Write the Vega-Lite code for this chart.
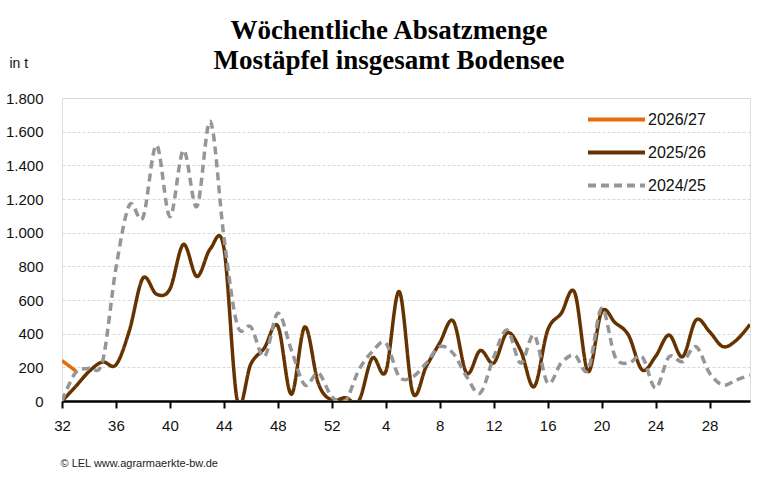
{
  "$schema": "https://vega.github.io/schema/vega-lite/v6.json",
  "width": 688,
  "height": 303,
  "autosize": {"type": "none"},
  "padding": {"left": 62, "top": 98, "right": 23, "bottom": 77},
  "background": "white",
  "title": {
    "text": ["Wöchentliche Absatzmenge", "Mostäpfel insgesamt Bodensee"],
    "font": "Liberation Serif",
    "fontSize": 27,
    "fontWeight": "bold",
    "color": "black",
    "anchor": "middle",
    "frame": "group",
    "dx": -17,
    "offset": -19,
    "lineHeight": 30
  },
  "data": {
    "values": [
      {"season": "2025/26", "week": 32, "t": 0},
      {"season": "2025/26", "week": 33, "t": 85},
      {"season": "2025/26", "week": 34, "t": 175},
      {"season": "2025/26", "week": 35, "t": 232},
      {"season": "2025/26", "week": 36, "t": 215},
      {"season": "2025/26", "week": 37, "t": 420},
      {"season": "2025/26", "week": 38, "t": 730},
      {"season": "2025/26", "week": 39, "t": 635},
      {"season": "2025/26", "week": 40, "t": 665},
      {"season": "2025/26", "week": 41, "t": 930},
      {"season": "2025/26", "week": 42, "t": 740},
      {"season": "2025/26", "week": 43, "t": 905},
      {"season": "2025/26", "week": 44, "t": 910},
      {"season": "2025/26", "week": 45, "t": 0},
      {"season": "2025/26", "week": 46, "t": 220},
      {"season": "2025/26", "week": 47, "t": 315},
      {"season": "2025/26", "week": 48, "t": 445},
      {"season": "2025/26", "week": 49, "t": 40},
      {"season": "2025/26", "week": 50, "t": 440},
      {"season": "2025/26", "week": 51, "t": 105},
      {"season": "2025/26", "week": 52, "t": 5},
      {"season": "2025/26", "week": 1, "t": 20},
      {"season": "2025/26", "week": 2, "t": 0},
      {"season": "2025/26", "week": 3, "t": 255},
      {"season": "2025/26", "week": 4, "t": 175},
      {"season": "2025/26", "week": 5, "t": 650},
      {"season": "2025/26", "week": 6, "t": 50},
      {"season": "2025/26", "week": 7, "t": 205},
      {"season": "2025/26", "week": 8, "t": 345},
      {"season": "2025/26", "week": 9, "t": 475},
      {"season": "2025/26", "week": 10, "t": 165},
      {"season": "2025/26", "week": 11, "t": 300},
      {"season": "2025/26", "week": 12, "t": 225},
      {"season": "2025/26", "week": 13, "t": 405},
      {"season": "2025/26", "week": 14, "t": 300},
      {"season": "2025/26", "week": 15, "t": 85},
      {"season": "2025/26", "week": 16, "t": 420},
      {"season": "2025/26", "week": 17, "t": 520},
      {"season": "2025/26", "week": 18, "t": 645},
      {"season": "2025/26", "week": 19, "t": 175},
      {"season": "2025/26", "week": 20, "t": 530},
      {"season": "2025/26", "week": 21, "t": 465},
      {"season": "2025/26", "week": 22, "t": 390},
      {"season": "2025/26", "week": 23, "t": 185},
      {"season": "2025/26", "week": 24, "t": 265},
      {"season": "2025/26", "week": 25, "t": 392},
      {"season": "2025/26", "week": 26, "t": 263},
      {"season": "2025/26", "week": 27, "t": 481},
      {"season": "2025/26", "week": 28, "t": 412},
      {"season": "2025/26", "week": 29, "t": 323},
      {"season": "2025/26", "week": 30, "t": 362},
      {"season": "2025/26", "week": 31, "t": 455},
      {"season": "2024/25", "week": 32, "t": 0},
      {"season": "2024/25", "week": 33, "t": 168},
      {"season": "2024/25", "week": 34, "t": 196},
      {"season": "2024/25", "week": 35, "t": 234},
      {"season": "2024/25", "week": 36, "t": 790},
      {"season": "2024/25", "week": 37, "t": 1165},
      {"season": "2024/25", "week": 38, "t": 1090},
      {"season": "2024/25", "week": 39, "t": 1520},
      {"season": "2024/25", "week": 40, "t": 1095},
      {"season": "2024/25", "week": 41, "t": 1490},
      {"season": "2024/25", "week": 42, "t": 1155},
      {"season": "2024/25", "week": 43, "t": 1660},
      {"season": "2024/25", "week": 44, "t": 975},
      {"season": "2024/25", "week": 45, "t": 450},
      {"season": "2024/25", "week": 46, "t": 440},
      {"season": "2024/25", "week": 47, "t": 263},
      {"season": "2024/25", "week": 48, "t": 521},
      {"season": "2024/25", "week": 49, "t": 303},
      {"season": "2024/25", "week": 50, "t": 95},
      {"season": "2024/25", "week": 51, "t": 166},
      {"season": "2024/25", "week": 52, "t": 25},
      {"season": "2024/25", "week": 1, "t": 0},
      {"season": "2024/25", "week": 2, "t": 184},
      {"season": "2024/25", "week": 3, "t": 293},
      {"season": "2024/25", "week": 4, "t": 344},
      {"season": "2024/25", "week": 5, "t": 144},
      {"season": "2024/25", "week": 6, "t": 144},
      {"season": "2024/25", "week": 7, "t": 225},
      {"season": "2024/25", "week": 8, "t": 323},
      {"season": "2024/25", "week": 9, "t": 283},
      {"season": "2024/25", "week": 10, "t": 144},
      {"season": "2024/25", "week": 11, "t": 47},
      {"season": "2024/25", "week": 12, "t": 260},
      {"season": "2024/25", "week": 13, "t": 422},
      {"season": "2024/25", "week": 14, "t": 225},
      {"season": "2024/25", "week": 15, "t": 392},
      {"season": "2024/25", "week": 16, "t": 107},
      {"season": "2024/25", "week": 17, "t": 225},
      {"season": "2024/25", "week": 18, "t": 273},
      {"season": "2024/25", "week": 19, "t": 184},
      {"season": "2024/25", "week": 20, "t": 551},
      {"season": "2024/25", "week": 21, "t": 263},
      {"season": "2024/25", "week": 22, "t": 225},
      {"season": "2024/25", "week": 23, "t": 263},
      {"season": "2024/25", "week": 24, "t": 77},
      {"season": "2024/25", "week": 25, "t": 263},
      {"season": "2024/25", "week": 26, "t": 234},
      {"season": "2024/25", "week": 27, "t": 323},
      {"season": "2024/25", "week": 28, "t": 166},
      {"season": "2024/25", "week": 29, "t": 95},
      {"season": "2024/25", "week": 30, "t": 125},
      {"season": "2024/25", "week": 31, "t": 154},
      {"season": "2026/27", "week": 32, "t": 240},
      {"season": "2026/27", "week": 33, "t": 180}
    ]
  },
  "mark": {"type": "line", "interpolate": "cardinal", "strokeWidth": 3.5, "clip": true},
  "encoding": {
    "x": {
      "field": "week",
      "type": "ordinal",
      "scale": {
        "type": "point",
        "padding": 0,
        "domain": [32, 33, 34, 35, 36, 37, 38, 39, 40, 41, 42, 43, 44, 45, 46, 47, 48, 49, 50, 51, 52, 1, 2, 3, 4, 5, 6, 7, 8, 9, 10, 11, 12, 13, 14, 15, 16, 17, 18, 19, 20, 21, 22, 23, 24, 25, 26, 27, 28, 29, 30, 31]
      },
      "axis": {
        "values": [32, 36, 40, 44, 48, 52, 4, 8, 12, 16, 20, 24, 28],
        "labelAngle": 0,
        "labelFont": "Liberation Sans",
        "labelFontSize": 15,
        "labelColor": "#111",
        "labelPadding": 10,
        "domainColor": "black",
        "domainWidth": 2.5,
        "tickColor": "black",
        "tickWidth": 2,
        "tickSize": 7,
        "grid": false,
        "title": "© LEL www.agrarmaerkte-bw.de",
        "titleFont": "Liberation Sans",
        "titleFontSize": 11,
        "titleFontWeight": "normal",
        "titleColor": "#222",
        "titleAnchor": "start",
        "titleAlign": "left",
        "titleBaseline": "middle",
        "titleX": -2,
        "titleY": 62
      }
    },
    "y": {
      "field": "t",
      "type": "quantitative",
      "scale": {"domain": [0, 1800], "nice": false},
      "axis": {
        "values": [0, 200, 400, 600, 800, 1000, 1200, 1400, 1600, 1800],
        "labelExpr": "replace(format(datum.value, ','), ',', '.')",
        "labelFont": "Liberation Sans",
        "labelFontSize": 15,
        "labelColor": "#111",
        "labelPadding": 19,
        "domain": false,
        "ticks": false,
        "gridColor": "#d9d9d9",
        "gridDash": [3, 2],
        "gridWidth": 1,
        "title": "in  t",
        "titleFont": "Liberation Sans",
        "titleFontSize": 14,
        "titleFontWeight": "normal",
        "titleColor": "#111",
        "titleAngle": 0,
        "titleAlign": "left",
        "titleBaseline": "middle",
        "titleX": -53,
        "titleY": -35
      }
    },
    "color": {
      "field": "season",
      "type": "nominal",
      "scale": {
        "domain": ["2026/27", "2025/26", "2024/25"],
        "range": ["#e46c0a", "#663300", "#969696"]
      },
      "legend": {
        "title": null,
        "orient": "none",
        "legendX": 538,
        "legendY": 5,
        "symbolType": "M-2,0H2",
        "symbolSize": 812,
        "symbolStrokeWidth": 4,
        "labelFont": "Liberation Sans",
        "labelFontSize": 16,
        "labelColor": "#111",
        "labelOffset": 15,
        "rowPadding": 8
      }
    },
    "strokeDash": {
      "field": "season",
      "type": "nominal",
      "scale": {
        "domain": ["2026/27", "2025/26", "2024/25"],
        "range": [[1, 0], [1, 0], [8, 5]]
      },
      "legend": {
        "title": null,
        "orient": "none",
        "legendX": 538,
        "legendY": 5,
        "symbolType": "M-2,0H2",
        "symbolSize": 812,
        "symbolStrokeWidth": 4,
        "labelFont": "Liberation Sans",
        "labelFontSize": 16,
        "labelColor": "#111",
        "labelOffset": 15,
        "rowPadding": 8
      }
    }
  }
}
